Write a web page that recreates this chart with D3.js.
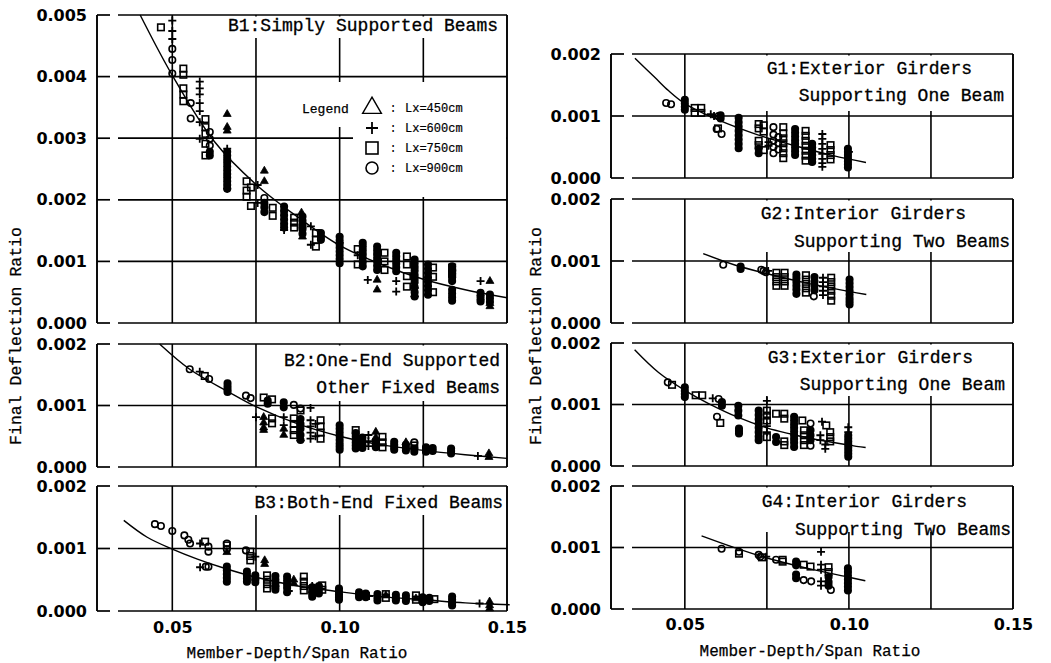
<!DOCTYPE html>
<html>
<head>
<meta charset="utf-8">
<script src="https://cdn.jsdelivr.net/npm/d3@7"></script>
<style>
  body { margin: 0; background: #fff; }
  svg { display: block; }
</style>
</head>
<body>
<div id="my_dataviz"></div>
<script>
// ---- data: [member-depth/span ratio, final deflection ratio]

const legendLabels = ["Lx=450cm", "Lx=600cm", "Lx=750cm", "Lx=900cm"];
const markerTypes = ["tri", "plus", "sq", "circ"];
const panelTitles = {
  B1: ["B1:Simply Supported Beams"],
  B2: ["B2:One-End Supported", "Other Fixed Beams"],
  B3: ["B3:Both-End Fixed Beams"],
  G1: ["G1:Exterior Girders", "Supporting One Beam"],
  G2: ["G2:Interior Girders", "Supporting Two Beams"],
  G3: ["G3:Exterior Girders", "Supporting One Beam"],
  G4: ["G4:Interior Girders", "Supporting Two Beams"]
};
const xGridValues = [0.05, 0.075, 0.10, 0.125];
const xTickValues = [0.05, 0.10, 0.15];
const yTicksB1 = [0, 0.001, 0.002, 0.003, 0.004, 0.005];
const yTicksSmall = [0, 0.001, 0.002];

// B1
const b1Fit = [[0.0404,0.005],[0.05,0.00402],[0.0625,0.00295],[0.075,0.00225],[0.0875,0.00172],[0.10,0.00126],[0.1125,0.00095],[0.125,0.00071],[0.1375,0.00054],[0.15,0.00041]];
const b1Tri = [[0.0664,0.00339],[0.0664,0.00318],[0.0664,0.00312],[0.0775,0.00247],[0.0775,0.0023],[0.0886,0.00179],[0.0889,0.0014],
  [0.1112,0.0007],[0.1112,0.00054],[0.1224,0.00046],[0.1224,0.0006],[0.1449,0.00068],[0.1449,0.00032],[0.1449,0.00027]];
const b1Plus = [[0.05,0.00491],[0.05,0.00474],[0.05,0.00461],[0.0582,0.00392],[0.0582,0.00381],[0.0582,0.00371],[0.0582,0.00357],
  [0.0582,0.00344],[0.0582,0.00326],[0.0582,0.00299],[0.0664,0.00283],[0.0664,0.00218],[0.0755,0.00224],[0.0755,0.00195],
  [0.0834,0.00151],[0.0889,0.00155],[0.0914,0.00157],[0.0914,0.00127],[0.1,0.0013],[0.1054,0.0011],[0.1084,0.0007],
  [0.1169,0.00068],[0.1169,0.00051],[0.1421,0.00068],[0.1421,0.00045],[0.1421,0.00038]];
const b1Sq = [[0.0466,0.0048],[0.0533,0.00413],[0.0533,0.00403],[0.0533,0.00381],[0.0533,0.00371],[0.0533,0.0036],
  [0.0599,0.00331],[0.0599,0.00318],[0.0599,0.00307],[0.0599,0.00291],[0.0599,0.00272],[0.0722,0.0023],[0.0722,0.00215],
  [0.0722,0.00205],[0.0735,0.0022],[0.0735,0.0019],[0.08,0.00187],[0.08,0.00174],[0.0864,0.00171],[0.0864,0.00163],
  [0.0864,0.00155],[0.0929,0.00146],[0.0929,0.00135],[0.0929,0.00124],[0.1054,0.0012],[0.1054,0.00095],[0.1134,0.00114],
  [0.1134,0.001],[0.1134,0.00086],[0.1201,0.00108],[0.1201,0.00095],[0.1201,0.00076],[0.1201,0.00059],[0.1279,0.0009],
  [0.1279,0.00075],[0.1279,0.0005],[0.1336,0.0009],[0.1336,0.0008]];
const b1Circ = [[0.05,0.00445],[0.05,0.00427],[0.05,0.00405],[0.0555,0.00357],[0.0555,0.00332],[0.0612,0.0031],[0.0612,0.00299],
  [0.0612,0.00288],[0.0612,0.00278],[0.0612,0.00272],
  [0.0664,0.00278],[0.0664,0.00272],[0.0664,0.00266],[0.0664,0.0026],[0.0664,0.00254],[0.0664,0.00248],[0.0664,0.00242],
  [0.0664,0.00236],[0.0664,0.0023],[0.0664,0.00224],[0.0664,0.00218],
  [0.0775,0.00203],[0.0775,0.00195],[0.0775,0.00188],[0.0775,0.0018],
  [0.0834,0.00189],[0.0834,0.00182],[0.0834,0.00175],[0.0834,0.00168],[0.0834,0.00161],[0.0834,0.00155],
  [0.0889,0.00173],[0.0889,0.00166],[0.0889,0.00159],[0.0889,0.00152],[0.0889,0.00145],
  [0.0944,0.00146],[0.0944,0.0014],[0.0944,0.00135],
  [0.1,0.0014],[0.1,0.00134],[0.1,0.00128],[0.1,0.00122],[0.1,0.00116],[0.1,0.0011],[0.1,0.00104],[0.1,0.00097],
  [0.1069,0.0013],[0.1069,0.00124],[0.1069,0.00118],[0.1069,0.00112],[0.1069,0.00106],[0.1069,0.00099],[0.1069,0.00092],
  [0.1112,0.00124],[0.1112,0.00118],[0.1112,0.00112],[0.1112,0.00106],[0.1112,0.001],[0.1112,0.00093],[0.1112,0.00086],
  [0.1169,0.00114],[0.1169,0.00108],[0.1169,0.00102],[0.1169,0.00096],[0.1169,0.0009],[0.1169,0.00084],
  [0.1224,0.00103],[0.1224,0.00097],[0.1224,0.00091],[0.1224,0.00085],[0.1224,0.00078],[0.1224,0.00072],[0.1224,0.00066],
  [0.1224,0.00058],[0.1224,0.0005],[0.1224,0.00043],
  [0.1264,0.00095],[0.1264,0.00088],[0.1264,0.00081],[0.1264,0.00074],[0.1264,0.00067],[0.1264,0.0006],[0.1264,0.00053],[0.1264,0.00046],
  [0.1336,0.00092],[0.1336,0.00086],[0.1336,0.0008],[0.1336,0.00074],[0.1336,0.00068],[0.1336,0.00054],[0.1336,0.00048],
  [0.1336,0.00042],[0.1336,0.00036],
  [0.1421,0.00049],[0.1421,0.00042],[0.1421,0.00035],[0.1449,0.00046],[0.1449,0.0004],[0.1449,0.00034]];

// B2
const b2Fit = [[0.0462,0.002],[0.0552,0.00159],[0.0665,0.00123],[0.075,0.00098],[0.0875,0.0007],[0.10,0.0005],[0.1125,0.00036],[0.125,0.00027],[0.1375,0.0002],[0.15,0.00014]];
const b2Tri = [[0.0773,0.00081],[0.0773,0.00072],[0.0773,0.00064],[0.0773,0.0006],[0.0833,0.00062],[0.0833,0.00052],[0.0883,0.00046],
  [0.1108,0.00057],[0.1108,0.00048],[0.1198,0.0004],[0.1446,0.00022],[0.1446,0.00016]];
const b2Plus = [[0.0582,0.00155],[0.0913,0.00096],[0.075,0.00081],[0.0833,0.00081],[0.0833,0.00068],[0.0913,0.00076],[0.0913,0.00066],
  [0.0913,0.00056],[0.0913,0.00046],[0.0928,0.0007],[0.0928,0.0005],[0.1086,0.00052],[0.1086,0.00042],[0.1086,0.00034],
  [0.1413,0.00018],[0.1058,0.00045]];
const b2Sq = [[0.0597,0.00148],[0.0773,0.00113],[0.0798,0.0011],[0.0798,0.00079],[0.0798,0.00071],[0.0863,0.00079],[0.0863,0.0007],
  [0.0863,0.0006],[0.0863,0.00052],[0.0883,0.00092],[0.0943,0.00076],[0.0943,0.00066],[0.0943,0.00056],[0.0943,0.00046],
  [0.1128,0.00049],[0.1128,0.0004],[0.1128,0.00032],[0.1048,0.0006],[0.1223,0.00035]];
const b2Circ = [[0.0552,0.00159],[0.061,0.00143],[0.0665,0.00136],[0.0665,0.00131],[0.0665,0.00126],[0.0665,0.00122],
  [0.072,0.00116],[0.0734,0.00112],[0.0785,0.00108],[0.0785,0.00103],[0.0833,0.00105],[0.0833,0.00097],[0.0863,0.00101],
  [0.0883,0.00095],[0.0883,0.00078],[0.0883,0.0007],[0.0883,0.00062],[0.0883,0.00052],[0.0883,0.00044],
  [0.1,0.00068],[0.1,0.00062],[0.1,0.00056],[0.1,0.0005],[0.1,0.00044],[0.1,0.00038],[0.1,0.00033],[0.1,0.00028],
  [0.1048,0.00055],[0.1048,0.0005],[0.1048,0.00045],[0.1048,0.0004],[0.1048,0.00035],[0.1048,0.0003],
  [0.1068,0.00048],[0.1068,0.00042],[0.1068,0.00036],[0.1068,0.00031],
  [0.1108,0.00042],[0.1108,0.00037],[0.1108,0.00032],
  [0.1163,0.00041],[0.1163,0.00036],[0.1163,0.00032],[0.1163,0.00028],
  [0.1198,0.00036],[0.1198,0.00031],[0.1198,0.00027],[0.1223,0.0004],[0.1223,0.0003],[0.1223,0.00025],
  [0.1258,0.00032],[0.1258,0.00028],[0.1258,0.00025],[0.1278,0.00031],[0.1278,0.00026],
  [0.1333,0.0003],[0.1333,0.00026],[0.1333,0.00022]];

// B3
const b3Fit = [[0.0355,0.00145],[0.0425,0.00118],[0.05,0.00099],[0.0575,0.00083],[0.0658,0.00068],[0.075,0.00054],[0.0875,0.0004],[0.0998,0.00031],[0.1125,0.00023],[0.1253,0.00018],[0.1375,0.00013],[0.1508,0.0001]];
const b3Tri = [[0.0776,0.00081],[0.0776,0.00075],[0.0663,0.00094],[0.0863,0.0005],[0.0863,0.00044],[0.1138,0.00025],
  [0.1228,0.0002],[0.1448,0.00015],[0.1448,0.00009],[0.1448,0.00004]];
const b3Plus = [[0.0583,0.00108],[0.0748,0.00087],[0.0583,0.0007],[0.0748,0.0005],[0.0808,0.0004],[0.0848,0.00032],
  [0.0918,0.0004],[0.0918,0.0003],[0.1088,0.00024],[0.1168,0.0002],[0.1268,0.00018],[0.1418,0.00012]];
const b3Sq = [[0.0598,0.00111],[0.0733,0.00095],[0.0733,0.00088],[0.0733,0.00081],[0.0663,0.00105],[0.0783,0.00057],
  [0.0783,0.0005],[0.0783,0.00043],[0.0783,0.00036],[0.0893,0.00055],[0.0893,0.00047],[0.0893,0.0004],[0.0893,0.00033],
  [0.0948,0.00041],[0.0948,0.00034],[0.1138,0.00027],[0.1138,0.00021],[0.1228,0.00025],[0.1228,0.00018],[0.1283,0.00019]];
const b3Circ = [[0.0448,0.00139],[0.0466,0.00136],[0.05,0.00128],[0.0536,0.00121],[0.0548,0.00114],[0.0553,0.00108],
  [0.0608,0.00103],[0.0608,0.00095],[0.0663,0.00108],[0.0663,0.00099],[0.072,0.00097],[0.06,0.00071],[0.0608,0.00071],
  [0.0663,0.00071],[0.0663,0.00065],[0.0663,0.00059],[0.0663,0.00053],[0.0663,0.00047],
  [0.0723,0.00063],[0.0723,0.00057],[0.0723,0.00052],[0.0723,0.00047],[0.0748,0.00057],[0.0748,0.00052],[0.0748,0.00046],
  [0.0808,0.00056],[0.0808,0.0005],[0.0808,0.00044],[0.0808,0.00038],[0.0808,0.00034],
  [0.0843,0.00055],[0.0843,0.00049],[0.0843,0.00043],[0.0843,0.00037],[0.0843,0.0003],
  [0.0918,0.00038],[0.0918,0.00033],[0.0918,0.00028],[0.0918,0.00023],[0.0938,0.0004],[0.0938,0.00034],[0.0938,0.00028],
  [0.0998,0.00036],[0.0998,0.00031],[0.0998,0.00026],[0.0998,0.00022],[0.0998,0.00018],
  [0.1058,0.0003],[0.1058,0.00026],[0.1058,0.00022],[0.1078,0.00028],[0.1078,0.00022],
  [0.1113,0.00027],[0.1113,0.00022],[0.1113,0.00017],[0.1168,0.00026],[0.1168,0.00021],[0.1168,0.00017],
  [0.1198,0.00025],[0.1198,0.0002],[0.1198,0.00016],[0.1248,0.00022],[0.1248,0.00018],[0.1248,0.00014],
  [0.1268,0.00021],[0.1268,0.00016],[0.1336,0.00023],[0.1336,0.00018],[0.1336,0.00013],[0.1336,0.00009]];

// G1
const g1Fit = [[0.0348,0.00193],[0.0409,0.00162],[0.045,0.00141],[0.05,0.0012],[0.06,0.00094],[0.072,0.0007],[0.085,0.0005],[0.0952,0.00036],[0.1052,0.00025]];
const g1Tri = [];
const g1Plus = [[0.0579,0.00103],[0.0589,0.001],[0.0755,0.00058],[0.0755,0.00052],[0.0919,0.00071],[0.0919,0.00063],[0.0919,0.00055],
  [0.0919,0.00047],[0.0919,0.00039],[0.0919,0.00031],[0.0919,0.00024],[0.0919,0.00018],[0.1,0.00042]];
const g1Sq = [[0.053,0.00113],[0.053,0.00105],[0.055,0.00113],[0.055,0.00105],[0.0725,0.00087],[0.0725,0.0008],[0.0725,0.0006],
  [0.0725,0.00053],[0.074,0.00085],[0.074,0.00075],[0.074,0.00045],[0.08,0.00082],[0.08,0.00072],[0.08,0.00064],[0.08,0.00056],
  [0.08,0.00048],[0.08,0.0004],[0.08,0.00032],[0.0868,0.00076],[0.0868,0.00068],[0.0868,0.0006],[0.0868,0.00052],
  [0.0868,0.00044],[0.0868,0.00036],[0.0868,0.00028],[0.0944,0.00053],[0.0944,0.00045],[0.0944,0.00037],[0.0944,0.0003],
  [0.0601,0.0008]];
const g1Circ = [[0.0443,0.00121],[0.0458,0.00119],[0.05,0.00126],[0.05,0.0012],[0.05,0.00115],[0.05,0.0011],[0.0609,0.00101],
  [0.0609,0.00096],[0.0603,0.001],[0.0612,0.00071],[0.0597,0.00079],
  [0.0664,0.00097],[0.0664,0.0009],[0.0664,0.00083],[0.0664,0.00076],[0.0664,0.00069],[0.0664,0.00062],[0.0664,0.00055],[0.0664,0.00048],
  [0.0725,0.00047],[0.0725,0.0004],[0.077,0.00082],[0.077,0.0007],[0.077,0.0006],[0.077,0.0005],[0.077,0.0004],
  [0.0785,0.00066],[0.0785,0.00056],[0.0785,0.00046],
  [0.0836,0.00079],[0.0836,0.00073],[0.0836,0.00067],[0.0836,0.00061],[0.0836,0.00055],[0.0836,0.00049],[0.0836,0.00043],[0.0836,0.00037],
  [0.0888,0.00055],[0.0888,0.00049],[0.0888,0.00043],[0.0888,0.00037],[0.0888,0.00031],[0.0888,0.00026],
  [0.0997,0.00047],[0.0997,0.00042],[0.0997,0.00037],[0.0997,0.00032],[0.0997,0.00027],[0.0997,0.00022],[0.0997,0.00017]];

// G2
const g2Fit = [[0.0556,0.00112],[0.065,0.00094],[0.0754,0.00079],[0.0875,0.00064],[0.10,0.00051],[0.1053,0.00046]];
const g2Tri = [];
const g2Plus = [[0.0921,0.00073],[0.0921,0.00066],[0.0921,0.00059],[0.0921,0.00052],[0.0921,0.00045],[0.0754,0.00084]];
const g2Sq = [[0.0779,0.00081],[0.0779,0.00074],[0.0779,0.00067],[0.0779,0.0006],[0.0804,0.00081],[0.0804,0.00074],[0.0804,0.00067],
  [0.0804,0.0006],[0.0869,0.00077],[0.0869,0.0007],[0.0869,0.00063],[0.0869,0.00056],[0.0869,0.00049],[0.0946,0.00073],
  [0.0946,0.00066],[0.0946,0.00059],[0.0946,0.00052],[0.0946,0.00044],[0.0946,0.00036]];
const g2Circ = [[0.0617,0.00094],[0.067,0.00091],[0.067,0.00087],[0.0733,0.00086],[0.074,0.00084],[0.0747,0.00082],
  [0.084,0.00078],[0.084,0.00072],[0.084,0.00066],[0.084,0.0006],[0.084,0.00054],[0.084,0.00047],[0.0893,0.00043],
  [0.0895,0.00074],[0.0895,0.00067],[0.0895,0.0006],[0.0895,0.00053],
  [0.1002,0.0007],[0.1002,0.00064],[0.1002,0.00058],[0.1002,0.00052],[0.1002,0.00046],[0.1002,0.0004],[0.1002,0.00035],[0.1002,0.0003]];

// G3
const g3Fit = [[0.0347,0.00189],[0.042,0.00152],[0.05,0.00123],[0.0571,0.00102],[0.0663,0.00079],[0.075,0.00062],[0.0823,0.00052],[0.09,0.00043],[0.10,0.00034],[0.1051,0.0003]];
const g3Tri = [];
const g3Plus = [[0.0585,0.0011],[0.075,0.00106],[0.075,0.00065],[0.075,0.00055],[0.0918,0.00072],[0.0913,0.0005],[0.0913,0.00042],
  [0.0928,0.00035],[0.0928,0.00028],[0.0998,0.00063],[0.0998,0.00055]];
const g3Sq = [[0.0461,0.00132],[0.0533,0.00115],[0.0553,0.00115],[0.0608,0.0007],[0.075,0.0009],[0.075,0.00082],[0.075,0.00074],
  [0.075,0.00047],[0.0778,0.00085],[0.0803,0.00085],[0.0803,0.00077],[0.0858,0.00074],[0.0931,0.00066],[0.0863,0.00058],
  [0.0863,0.0005],[0.0863,0.00042],[0.0863,0.00034],[0.0943,0.00055],[0.0943,0.00047],[0.0943,0.0004],[0.0803,0.0004],[0.0803,0.00034]];
const g3Circ = [[0.0448,0.00136],[0.05,0.00128],[0.05,0.00122],[0.05,0.00117],[0.05,0.00112],[0.0603,0.00109],[0.0613,0.00104],
  [0.0613,0.00098],[0.0598,0.0008],[0.0663,0.00098],[0.0663,0.0009],[0.0663,0.00082],[0.0665,0.00061],[0.0665,0.00057],[0.0665,0.00053],
  [0.0725,0.0009],[0.0725,0.00083],[0.0725,0.00076],[0.0725,0.00069],[0.0725,0.00062],[0.0725,0.00055],[0.0725,0.00048],[0.0725,0.00042],
  [0.0778,0.00047],[0.0778,0.00039],
  [0.0833,0.0008],[0.0833,0.00074],[0.0833,0.00068],[0.0833,0.00062],[0.0833,0.00056],[0.0833,0.0005],[0.0833,0.00044],[0.0833,0.00038],[0.0833,0.00031],
  [0.0883,0.00069],[0.0883,0.00058],[0.0883,0.0005],[0.0883,0.00042],[0.0883,0.00033],
  [0.0998,0.0005],[0.0998,0.00045],[0.0998,0.0004],[0.0998,0.00035],[0.0998,0.0003],[0.0998,0.00025],[0.0998,0.0002],[0.0998,0.00015]];

// G4
const g4Fit = [[0.0551,0.00119],[0.0645,0.00101],[0.0737,0.00085],[0.0875,0.00066],[0.0997,0.00052],[0.105,0.00046]];
const g4Tri = [];
const g4Plus = [[0.0915,0.00093],[0.0915,0.00072],[0.0915,0.00064],[0.0915,0.00045],[0.0915,0.00038],[0.0748,0.00085]];
const g4Sq = [[0.0665,0.0009],[0.0735,0.00084],[0.0798,0.0008],[0.0798,0.00077],[0.0862,0.00072],[0.0883,0.00069],[0.0938,0.00068],[0.0938,0.0006]];
const g4Circ = [[0.0612,0.00098],[0.0665,0.00093],[0.073,0.00085],[0.0725,0.00088],[0.0778,0.0008],[0.0839,0.00077],[0.0839,0.00071],
  [0.0839,0.00056],[0.0839,0.0005],[0.0862,0.00047],[0.0885,0.00045],[0.0938,0.00052],[0.0938,0.00044],[0.0938,0.00038],[0.0945,0.00031],
  [0.0997,0.00066],[0.0997,0.0006],[0.0997,0.00054],[0.0997,0.00048],[0.0997,0.00042],[0.0997,0.00036],[0.0997,0.0003]];

// ---- layout
const width = 1051, height = 663;
const xDomain = [0.0275, 0.15];
const leftCol = [97, 507], rightCol = [611, 1013];

const panels = [
  { id: "B1", col: leftCol, top: 15, bottom: 323, yMax: 0.005, yTicks: yTicksB1,
    fit: b1Fit, series: [b1Tri, b1Plus, b1Sq, b1Circ],
    titleX: [498], titleY: [25], mask: [[218, 38]], xAxis: false },
  { id: "B2", col: leftCol, top: 344, bottom: 467, yMax: 0.002, yTicks: yTicksSmall,
    fit: b2Fit, series: [b2Tri, b2Plus, b2Sq, b2Circ],
    titleX: [500, 500], titleY: [360, 387], mask: [[270, 401]], xAxis: false },
  { id: "B3", col: leftCol, top: 486, bottom: 611, yMax: 0.002, yTicks: yTicksSmall,
    fit: b3Fit, series: [b3Tri, b3Plus, b3Sq, b3Circ],
    titleX: [503], titleY: [502], mask: [[245, 515]], xAxis: true, xLabelPad: 11 },
  { id: "G1", col: rightCol, top: 54, bottom: 178, yMax: 0.002, yTicks: yTicksSmall,
    fit: g1Fit, series: [g1Tri, g1Plus, g1Sq, g1Circ],
    titleX: [972, 1004], titleY: [68, 95], mask: [[760, 111]], xAxis: false },
  { id: "G2", col: rightCol, top: 199, bottom: 323, yMax: 0.002, yTicks: yTicksSmall,
    fit: g2Fit, series: [g2Tri, g2Plus, g2Sq, g2Circ],
    titleX: [966, 1010], titleY: [213, 241], mask: [[756, 252]], xAxis: false },
  { id: "G3", col: rightCol, top: 343, bottom: 466, yMax: 0.002, yTicks: yTicksSmall,
    fit: g3Fit, series: [g3Tri, g3Plus, g3Sq, g3Circ],
    titleX: [973, 1005], titleY: [357, 384], mask: [[762, 396]], xAxis: false },
  { id: "G4", col: rightCol, top: 486, bottom: 609, yMax: 0.002, yTicks: yTicksSmall,
    fit: g4Fit, series: [g4Tri, g4Plus, g4Sq, g4Circ],
    titleX: [967, 1011], titleY: [501, 529], mask: [[757, 532]], xAxis: true, xLabelPad: 10 }
];

const monoFont = "'Liberation Mono', 'DejaVu Sans Mono', monospace";
const tickFont = "'DejaVu Sans', sans-serif";
const ink = "#000";

const svg = d3
  .select("#my_dataviz")
  .append("svg")
  .attr("width", width)
  .attr("height", height)
  .style("background", "#fff");

// draw one marker of a given type into a selection
function drawMarker(g, type, size, filled) {
  if (type === "tri") {
    g.append("path")
      .attr("d", d3.symbol(d3.symbolTriangle).size(size * size * 0.9)())
      .attr("fill", filled ? ink : "none")
      .attr("stroke", ink)
      .attr("stroke-width", filled ? 0.8 : 1.4);
  } else if (type === "plus") {
    const h = size / 2;
    g.append("path")
      .attr("d", `M${-h},0H${h}M0,${-h}V${h}`)
      .attr("stroke", ink)
      .attr("stroke-width", 1.8);
  } else if (type === "sq") {
    g.append("rect")
      .attr("x", -size / 2)
      .attr("y", -size / 2)
      .attr("width", size)
      .attr("height", size)
      .attr("fill", "none")
      .attr("stroke", ink)
      .attr("stroke-width", 1.6);
  } else {
    g.append("circle")
      .attr("r", size / 2)
      .attr("fill", filled ? ink : "none")
      .attr("stroke", ink)
      .attr("stroke-width", 1.6);
  }
}

// circles sitting in a tight stack print as solid dots in the original
function inStack(d, pts) {
  return pts.some(function (o) {
    return o !== d && Math.abs(o[0] - d[0]) < 0.0004 && Math.abs(o[1] - d[1]) < 0.00008;
  });
}

panels.forEach(function (p) {
  const x = d3.scaleLinear().domain(xDomain).range(p.col);
  const y = d3.scaleLinear().domain([0, p.yMax]).range([p.bottom, p.top]);
  const left = p.col[0], right = p.col[1];
  const g = svg.append("g").attr("class", "panel-" + p.id);

  // vertical grid lines
  g.selectAll(".vgrid")
    .data(xGridValues)
    .join("line")
    .attr("x1", function (d) { return x(d); })
    .attr("x2", function (d) { return x(d); })
    .attr("y1", p.top)
    .attr("y2", p.bottom)
    .attr("stroke", ink)
    .attr("stroke-width", 1.6);

  // horizontal grid lines: a short tick at the frame, a gap, then the line
  g.selectAll(".htick")
    .data(p.yTicks)
    .join("line")
    .attr("x1", left)
    .attr("x2", left + 13)
    .attr("y1", function (d) { return y(d); })
    .attr("y2", function (d) { return y(d); })
    .attr("stroke", ink)
    .attr("stroke-width", 1.7);
  g.selectAll(".hgrid")
    .data(p.yTicks)
    .join("line")
    .attr("x1", left + 21)
    .attr("x2", right)
    .attr("y1", function (d) { return y(d); })
    .attr("y2", function (d) { return y(d); })
    .attr("stroke", ink)
    .attr("stroke-width", 1.7);

  // white box behind the panel title hides the grid
  p.mask.forEach(function (m) {
    g.append("rect")
      .attr("x", m[0])
      .attr("y", p.top + 1.5)
      .attr("width", right - 1.5 - m[0])
      .attr("height", m[1] - p.top - 1.5)
      .attr("fill", "#fff");
  });

  // side edges of the frame
  g.selectAll(".edge")
    .data([left, right])
    .join("line")
    .attr("x1", function (d) { return d; })
    .attr("x2", function (d) { return d; })
    .attr("y1", p.top)
    .attr("y2", p.bottom)
    .attr("stroke", ink)
    .attr("stroke-width", 1.9);

  // y axis labels
  g.append("g")
    .attr("transform", `translate(${left}, 0)`)
    .call(d3.axisLeft(y).tickValues(p.yTicks).tickFormat(d3.format(".3f")).tickSize(0).tickPadding(10))
    .call(function (a) { a.select(".domain").remove(); })
    .selectAll("text")
    .attr("font-family", tickFont)
    .attr("font-weight", "bold")
    .attr("font-size", "16px")
    .attr("fill", ink);

  // x axis labels only under the bottom panels
  if (p.xAxis) {
    g.append("g")
      .attr("transform", `translate(0, ${p.bottom})`)
      .call(d3.axisBottom(x).tickValues(xTickValues).tickFormat(d3.format(".2f")).tickSize(0).tickPadding(p.xLabelPad))
      .call(function (a) { a.select(".domain").remove(); })
      .selectAll("text")
      .attr("font-family", tickFont)
      .attr("font-weight", "bold")
      .attr("font-size", "16px")
      .attr("fill", ink);
  }

  // scatter points
  p.series.forEach(function (pts, i) {
    const type = markerTypes[i];
    g.append("g")
      .selectAll("g")
      .data(pts)
      .join("g")
      .attr("transform", function (d) { return `translate(${x(d[0])}, ${y(d[1])})`; })
      .each(function (d) {
        const size = type === "tri" ? 5.5 : type === "plus" ? 8 : 6.5;
        const filled = type === "tri" || (type === "circ" && inStack(d, pts));
        drawMarker(d3.select(this), type, size, filled);
      });
  });

  // fitted curve
  g.append("path")
    .datum(p.fit)
    .attr("fill", "none")
    .attr("stroke", ink)
    .attr("stroke-width", 1.4)
    .attr("d", d3.line()
      .x(function (d) { return x(d[0]); })
      .y(function (d) { return y(d[1]); })
      .curve(d3.curveCatmullRom.alpha(0.5)));

  // panel title lines
  panelTitles[p.id].forEach(function (t, i) {
    g.append("text")
      .attr("x", p.titleX[i])
      .attr("y", p.titleY[i])
      .attr("dy", "0.35em")
      .attr("text-anchor", "end")
      .attr("font-family", monoFont)
      .attr("font-size", "18px")
      .attr("fill", ink)
      .attr("stroke", ink)
      .attr("stroke-width", 0.3)
      .text(t);
  });
});

// legend inside B1 (with its own white patch over the grid)
const legendMasks = [[296, 82, 506, 127], [353, 127, 506, 197]];
legendMasks.forEach(function (m) {
  svg.append("rect")
    .attr("x", m[0]).attr("y", m[1])
    .attr("width", m[2] - m[0]).attr("height", m[3] - m[1])
    .attr("fill", "#fff");
});
svg.append("text")
  .attr("x", 302)
  .attr("y", 108)
  .attr("dy", "0.35em")
  .attr("font-family", monoFont)
  .attr("font-size", "13px")
  .attr("fill", ink)
  .attr("stroke", ink)
  .attr("stroke-width", 0.25)
  .text("Legend");
const legendY = d3.scalePoint().domain(legendLabels).range([108, 168]);
const legend = svg.append("g")
  .selectAll("g")
  .data(legendLabels)
  .join("g")
  .attr("transform", function (d) { return `translate(0, ${legendY(d)})`; });
legend.each(function (d, i) {
  const row = d3.select(this);
  const sym = row.append("g").attr("transform", "translate(372, 0)");
  drawMarker(sym, markerTypes[i], markerTypes[i] === "tri" ? 13 : 12, false);
  row.append("text")
    .attr("x", 393).attr("dy", "0.35em")
    .attr("text-anchor", "middle")
    .attr("font-family", monoFont).attr("font-size", "12px").attr("fill", ink)
    .text(":");
  row.append("text")
    .attr("x", 405).attr("dy", "0.35em")
    .attr("font-family", monoFont).attr("font-size", "12px").attr("fill", ink)
    .attr("stroke", ink).attr("stroke-width", 0.2)
    .text(d);
});

// axis titles
[[297, 652], [810, 650]].forEach(function (pos) {
  svg.append("text")
    .attr("x", pos[0])
    .attr("y", pos[1])
    .attr("dy", "0.35em")
    .attr("text-anchor", "middle")
    .attr("font-family", monoFont)
    .attr("font-size", "16px")
    .attr("fill", ink)
    .attr("stroke", ink)
    .attr("stroke-width", 0.25)
    .text("Member-Depth/Span Ratio");
});
[[15, 336], [535, 336]].forEach(function (pos) {
  svg.append("text")
    .attr("transform", `translate(${pos[0]}, ${pos[1]}) rotate(-90)`)
    .attr("dy", "0.35em")
    .attr("text-anchor", "middle")
    .attr("font-family", monoFont)
    .attr("font-size", "16.5px")
    .attr("fill", ink)
    .attr("stroke", ink)
    .attr("stroke-width", 0.25)
    .text("Final Deflection Ratio");
});
</script>
</body>
</html>
